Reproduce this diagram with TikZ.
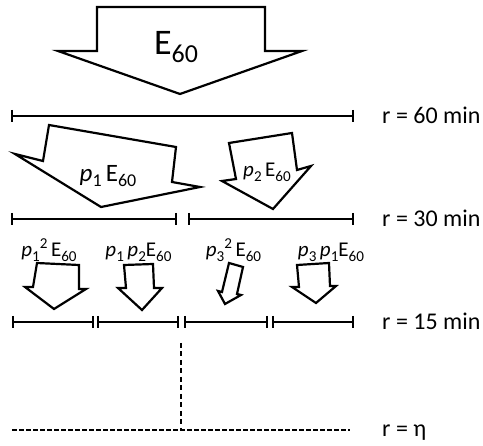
\documentclass[tikz,border=0pt]{standalone}
\usepackage{fontspec}
\usepackage{graphicx}
\setmainfont{Carlito}

% lowered / raised indices for the text labels
\newcommand\dn[1]{\raisebox{-0.2em}{\scalebox{0.72}{#1}}}
\newcommand\up[1]{\raisebox{0.42em}{\scalebox{0.72}{#1}}}
\newcommand\Esix{E\dn{60}}
\newcommand\pp[1]{\textit{p}\dn{#1}}

\tikzset{
  blockarrow/.style={draw, line width=2.2pt, line join=miter, fill=white},
  interval/.style={line width=2pt},
  guide/.style={line width=1.6pt, dash pattern=on 4.5pt off 2.5pt},
  vguide/.style={line width=1.6pt, dash pattern=on 5pt off 3.5pt},
  rlabel/.style={anchor=base west, inner sep=0pt, font=\fontsize{24}{28}\selectfont},
  ptext/.style={anchor=base, inner sep=0pt}
}

% interval with end ticks: #1 = name, #2 = x left, #3 = x right, #4 = y
\newcommand\interval[4]{%
  \coordinate (#1-l) at (#2,#4);
  \coordinate (#1-r) at (#3,#4);
  \draw[interval] (#1-l) -- (#1-r);
  \draw[interval] ([yshift=6pt]#1-l) -- ([yshift=-6pt]#1-l);
  \draw[interval] ([yshift=6pt]#1-r) -- ([yshift=-6pt]#1-r);
}

\begin{document}
\begin{tikzpicture}[x=1pt, y=-1pt]
\useasboundingbox (0,0) rectangle (483,446);

% top-level block arrow
\draw[blockarrow] (97,7) -- (265,7) -- (265,51) -- (302,51) -- (180,94)
  -- (58,51) -- (97,51) -- cycle;
\node[ptext, font=\fontsize{36}{40}\selectfont] (e60) at (176,55) {\Esix};

% r = 60 min
\interval{i60}{12}{353}{116}
\node[rlabel] (r60) at (382,124) {r = 60 min};

% second level
\draw[blockarrow] (49,125) -- (176,147) -- (172,182) -- (200,187) -- (101,207)
  -- (15,154) -- (43,161) -- cycle;
\node[ptext, font=\fontsize{25}{29}\selectfont] (l1) at (108,182) {\pp{1}\,\Esix};
\draw[blockarrow] (229,143) -- (292,133) -- (297,170) -- (311,166) -- (273,209)
  -- (222,181) -- (236,179) -- cycle;
\node[ptext, font=\fontsize{21}{25}\selectfont] (l2) at (267,177) {\pp{2}\,\Esix};

% r = 30 min
\interval{i30a}{12}{176}{219}
\interval{i30b}{189}{353}{219}
\node[rlabel] (r30) at (382,227) {r = 30 min};

% third level
\begin{scope}[every node/.style={ptext, font=\fontsize{21}{25}\selectfont}]
\node (l11) at (49,257)    {\textit{p}\dn{1}\up{2}\,\Esix};
\node (l12) at (138.5,257) {\pp{1}\,\pp{2}\Esix};
\node (l33) at (233.5,257) {\textit{p}\dn{3}\up{2}\,\Esix};
\node (l31) at (331,257)   {\pp{3}\,\pp{1}\Esix};
\end{scope}
\draw[blockarrow] (37,263) -- (79,265) -- (79,289) -- (86,289) -- (54,309)
  -- (25,287) -- (33,287) -- cycle;
\draw[blockarrow] (124,265) -- (153,264) -- (154,288) -- (162,288) -- (142,310)
  -- (118,288) -- (126,288) -- cycle;
\draw[blockarrow] (229,263) -- (243,267) -- (237,294) -- (241,295) -- (225,304)
  -- (218,291) -- (222,292) -- cycle;
\draw[blockarrow] (297,265) -- (329,263) -- (330,286) -- (336,286) -- (316,303)
  -- (292,287) -- (299,287) -- cycle;

% r = 15 min
\interval{i15a}{12.5}{93}{322}
\interval{i15b}{98}{178}{322}
\interval{i15c}{185}{267}{322}
\interval{i15d}{273}{353}{322}
\node[rlabel] (r15) at (382,330) {r = 15 min};

% r = eta
\coordinate (top) at (181,343);
\coordinate (foot) at (181,430);
\coordinate (eta-l) at (12,430);
\coordinate (eta-r) at (350,430);
\draw[vguide] (top) -- (foot);
\draw[guide] (eta-l) -- (eta-r);
\node[rlabel] (reta) at (382,437) {r = η};
\end{tikzpicture}
\end{document}
